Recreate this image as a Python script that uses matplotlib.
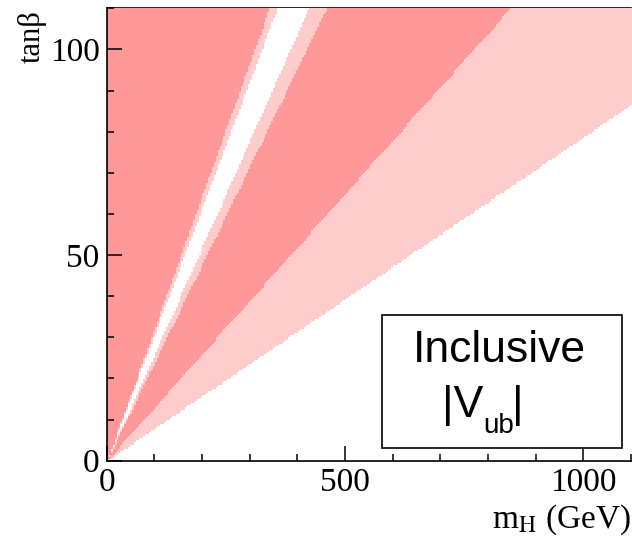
import numpy as np
import matplotlib
matplotlib.use("Agg")
from matplotlib import pyplot as plt
from matplotlib.colors import ListedColormap
from matplotlib.patches import Rectangle
from matplotlib.ticker import MultipleLocator

# boundaries of the allowed bands, as tan(beta)/m_H in 1/GeV (steep -> shallow)
band_slopes = [0.323, 0.308, 0.260, 0.239, 0.130, 0.0787]
# fill of each band, from below the shallowest line up to above the steepest
band_colors = ["#FFFFFF", "#FFCCCC", "#FF9999", "#FFCCCC", "#FFFFFF", "#FFCCCC", "#FF9999"]

m_max, tb_max = 1100, 110
x_ticks = [0, 500, 1000]
y_ticks = [0, 50, 100]

plt.rcParams["font.family"] = "Liberation Serif"

fig = plt.figure(figsize=(6.32, 5.41), dpi=100)
ax = fig.add_axes([0.1688, 0.1484, 0.8296, 0.8363])

# classify a fine grid by the ratio tanb/mH
mh = np.arange(1.0, m_max, 4.0)
tb = np.arange(0.25, tb_max, 0.5)
MH, TB = np.meshgrid(mh, tb)
ratio = TB / MH
cls = np.digitize(ratio, sorted(band_slopes))
cmap = ListedColormap(band_colors)
ax.imshow(cls, origin="lower", extent=[0, m_max, 0, tb_max], aspect="auto",
          interpolation="nearest", cmap=cmap, vmin=-0.5, vmax=len(band_colors) - 0.5,
          zorder=3)

ax.set_xlim(0, m_max)
ax.set_ylim(0, tb_max)
ax.set_xticks(x_ticks)
ax.set_yticks(y_ticks)
ax.xaxis.set_minor_locator(MultipleLocator(100))
ax.yaxis.set_minor_locator(MultipleLocator(10))
ax.tick_params(which="both", direction="in", top=False, right=False,
               width=1.1, labelsize=24, pad=5)
ax.tick_params(which="major", length=11)
ax.tick_params(which="minor", length=5)
ax.xaxis.set_zorder(5)
ax.yaxis.set_zorder(5)

for side in ["left", "bottom"]:
    ax.spines[side].set_linewidth(1.2)
    ax.spines[side].set_zorder(5)
ax.spines["top"].set_linewidth(1.2)
ax.spines["top"].set_zorder(1)
ax.spines["right"].set_color("#808080")
ax.spines["right"].set_zorder(1)

# label box
ax.add_patch(Rectangle((577, 3.1), 505, 32.4, facecolor="white",
                       edgecolor="black", linewidth=1.2, zorder=6))
sans = dict(family="Liberation Sans", va="baseline", zorder=7)
ax.text(825, 26.7, "Inclusive", family="Liberation Sans", fontsize=32,
        ha="center", va="center", zorder=7)
ax.text(789, 10.6, "|V", fontsize=32, ha="right", **sans)
ax.text(789, 6.8, "ub", fontsize=20, ha="left", **sans)
ax.text(851, 10.6, "|", fontsize=32, ha="left", **sans)

fig.text(32 / 632, 1 - 10 / 541, "tanβ", rotation=90, fontsize=22,
         ha="center", va="top")
fig.text(631 / 632, 1 - 537 / 541, r"m$_{\mathrm{H}}$ (GeV)", fontsize=24,
         ha="right", va="bottom", math_fontfamily="stix")

fig.savefig("out.png", dpi=100)
